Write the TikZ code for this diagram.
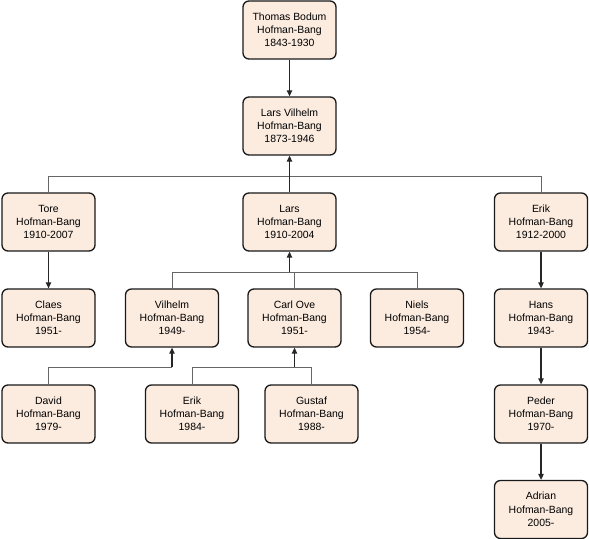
\documentclass[tikz,border=0pt]{standalone}
\usepackage{fontspec}
\setmainfont{Liberation Sans}
\usetikzlibrary{arrows.meta,positioning}
\definecolor{peach}{RGB}{252,236,224}
\tikzset{
  person/.style={draw=black!90,line width=1.3bp,fill=peach,rounded corners=6bp,
    minimum width=93bp,minimum height=58bp,inner sep=0pt,align=center,
    font=\fontsize{10.5}{13.3}\selectfont},
  bus/.style={draw=black!60,line width=0.9bp},
  pointer/.style={draw=black!85,line width=1.2bp,-{Triangle[length=6bp,width=5.5bp]}}
}

\begin{document}
\begin{tikzpicture}[x=1bp,y=-1bp]
\useasboundingbox (0,0) rectangle (589,539);
\node[person] (thomas) at (289.5,30) {Thomas Bodum\\Hofman-Bang\\1843-1930};
\node[person] (lvilhelm) at (289.5,126) {Lars Vilhelm\\Hofman-Bang\\1873-1946};
\node[person] (tore) at (48.5,222) {Tore\\Hofman-Bang\\1910-2007};
\node[person] (lars) at (289.5,222) {Lars\\Hofman-Bang\\1910-2004};
\node[person] (erik) at (541,222) {Erik\\Hofman-Bang\\1912-2000};
\node[person] (claes) at (48.5,318) {Claes\\Hofman-Bang\\1951-};
\node[person] (vilhelm) at (172,318) {Vilhelm\\Hofman-Bang\\1949-};
\node[person] (carlove) at (294.5,318) {Carl Ove\\Hofman-Bang\\1951-};
\node[person] (niels) at (417,318) {Niels\\Hofman-Bang\\1954-};
\node[person] (hans) at (541,318) {Hans\\Hofman-Bang\\1943-};
\node[person] (david) at (48.5,414) {David\\Hofman-Bang\\1979-};
\node[person] (erikb) at (192,414) {Erik\\Hofman-Bang\\1984-};
\node[person] (gustaf) at (311.5,414) {Gustaf\\Hofman-Bang\\1988-};
\node[person] (peder) at (541,414) {Peder\\Hofman-Bang\\1970-};
\node[person] (adrian) at (541,509.5) {Adrian\\Hofman-Bang\\2005-};

\coordinate (bus1) at (289.5,176);
\coordinate (bus2) at (289.5,272);
\coordinate (bus3) at (172,367);
\coordinate (bus4) at (294.5,367);

\foreach \c in {tore,erik} \draw[bus] (\c.north) |- (bus1);
\foreach \c in {vilhelm,carlove,niels} \draw[bus] (\c.north) |- (bus2);
\draw[bus] (david.north) |- (bus3);
\foreach \c in {erikb,gustaf} \draw[bus] (\c.north) |- (bus4);

\draw[pointer] (thomas) -- (lvilhelm);
\draw[pointer] (lars) -- (lvilhelm);
\draw[pointer] (bus2) -- (lars.south);
\draw[pointer] (bus3) -- (vilhelm.south);
\draw[pointer] (bus4) -- (carlove.south);
\draw[pointer] (tore) -- (claes);
\draw[pointer] (erik) -- (hans);
\draw[pointer] (hans) -- (peder);
\draw[pointer] (peder) -- (adrian);
\end{tikzpicture}
\end{document}
